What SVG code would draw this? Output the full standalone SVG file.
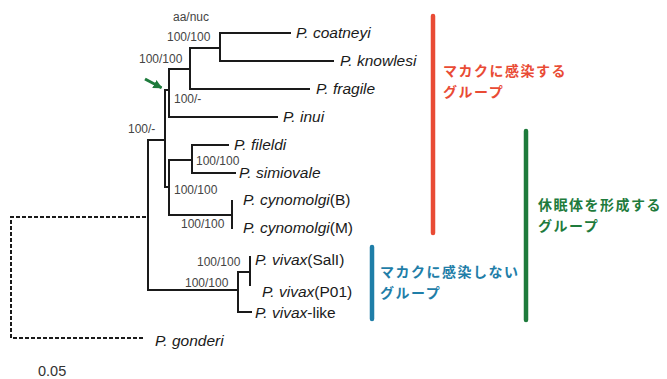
<svg xmlns="http://www.w3.org/2000/svg" width="667" height="379" viewBox="0 0 667 379">
<defs>
<style>
.br{fill:none;stroke:#1a1a1a;stroke-width:2;stroke-linecap:square}
.dash{fill:none;stroke:#1a1a1a;stroke-width:2;stroke-dasharray:4 2}
.sp{font-family:"Liberation Sans",Arial,sans-serif;font-size:15.5px;font-style:italic;fill:#1a1a1a}
.up{font-style:normal}
.bs{font-family:"Liberation Sans",Arial,sans-serif;font-size:12px;fill:#444}
.jp{font-family:"Noto Sans CJK JP","Noto Sans",sans-serif;font-size:14px;letter-spacing:1.5px;font-weight:bold}
.bar{stroke-width:4.5;stroke-linecap:round}
</style>
<marker id="ah" viewBox="0 0 10 10" refX="9" refY="5" markerWidth="3" markerHeight="3" orient="auto" markerUnits="strokeWidth">
<path d="M0,0 L10,5 L0,10 z" fill="#1e7b3c"/>
</marker>
</defs>
<rect width="667" height="379" fill="#fff"/>

<g id="connectors">
<path class="br" d="M220,33 V61 M220,33 H290 M220,61 H333"/>
<path class="br" d="M190,48 V89 M190,48 H220 M190,89 H309"/>
<path class="br" d="M169,69 V117 M169,69 H190 M169,117 H277"/>
<path class="br" d="M165,90 V187 M165,90 H169 M165,187 H169"/>
<path class="br" d="M169,160 V215 M169,160 H192 M169,215 H232"/>
<path class="br" d="M192,145 V173 M192,145 H228 M192,173 H235"/>
<path class="br" d="M232,201 V228"/>
<path class="br" d="M148,140 V290 M148,140 H165 M148,290 H238"/>
<path class="br" d="M238,272 V312 M238,272 H250 M238,312 H251"/>
<path class="br" d="M250,257 V285"/>
<path class="dash" d="M146,217 H11 V338 H145"/>
<line x1="145" y1="79" x2="161.5" y2="87.8" stroke="#1e7b3c" stroke-width="3" marker-end="url(#ah)"/>
</g>

<g id="n-aa"><text class="bs" x="173" y="21">aa/nuc</text></g>
<g id="b1"><text class="bs" x="167" y="41">100/100</text></g>
<g id="b2"><text class="bs" x="139" y="63">100/100</text></g>
<g id="b3"><text class="bs" x="174" y="103">100/-</text></g>
<g id="b4"><text class="bs" x="128" y="133">100/-</text></g>
<g id="b5"><text class="bs" x="196" y="165">100/100</text></g>
<g id="b6"><text class="bs" x="174" y="194">100/100</text></g>
<g id="b7"><text class="bs" x="181" y="228">100/100</text></g>
<g id="b8"><text class="bs" x="197" y="266">100/100</text></g>
<g id="b9"><text class="bs" x="185" y="287">100/100</text></g>

<g id="coatneyi"><text class="sp" x="296" y="38">P. coatneyi</text></g>
<g id="knowlesi"><text class="sp" x="340" y="66">P. knowlesi</text></g>
<g id="fragile"><text class="sp" x="316" y="94">P. fragile</text></g>
<g id="inui"><text class="sp" x="283" y="122">P. inui</text></g>
<g id="fileldi"><text class="sp" x="234" y="150">P. fileldi</text></g>
<g id="simiovale"><text class="sp" x="239" y="178">P. simiovale</text></g>
<g id="cynoB"><text class="sp" x="243" y="205">P. cynomolgi<tspan class="up">(B)</tspan></text></g>
<g id="cynoM"><text class="sp" x="243" y="233">P. cynomolgi<tspan class="up">(M)</tspan></text></g>
<g id="vivaxSalI"><text class="sp" x="255" y="265">P. vivax<tspan class="up">(SalI)</tspan></text></g>
<g id="vivaxP01"><text class="sp" x="262" y="297">P. vivax<tspan class="up">(P01)</tspan></text></g>
<g id="vivaxlike"><text class="sp" x="255" y="318">P. vivax<tspan class="up">-like</tspan></text></g>
<g id="gonderi"><text class="sp" x="155" y="346">P. gonderi</text></g>
<g id="scale"><text x="38" y="376" font-family="Liberation Sans, Arial, sans-serif" font-size="14.5" fill="#333">0.05</text></g>

<g id="grp-red">
<line class="bar" x1="433" y1="16" x2="433" y2="233" stroke="#e94b35"/>
<text class="jp" fill="#e94b35" x="443" y="76">マカクに感染する</text>
<text class="jp" fill="#e94b35" x="443" y="96.5">グループ</text>
</g>
<g id="grp-green">
<line class="bar" x1="526" y1="131" x2="526" y2="320" stroke="#1e7b3c"/>
<text class="jp" fill="#1e7b3c" x="538" y="210">休眠体を形成する</text>
<text class="jp" fill="#1e7b3c" x="538" y="230.5">グループ</text>
</g>
<g id="grp-blue">
<line class="bar" x1="372" y1="247" x2="372" y2="319" stroke="#1f7ea8"/>
<text class="jp" fill="#1f7ea8" x="380" y="277">マカクに感染しない</text>
<text class="jp" fill="#1f7ea8" x="380" y="297.5">グループ</text>
</g>
</svg>
